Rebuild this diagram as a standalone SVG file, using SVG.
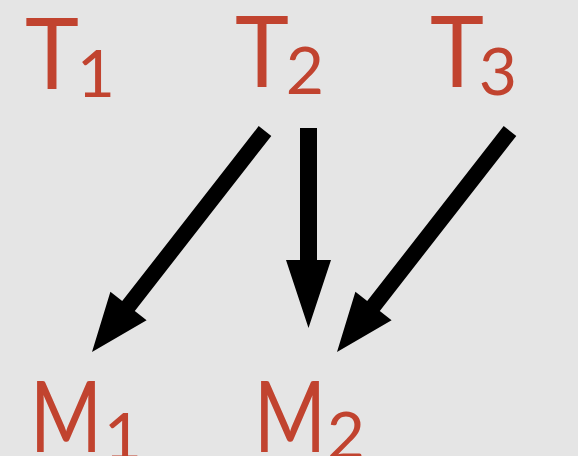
<svg xmlns="http://www.w3.org/2000/svg" width="578" height="456" viewBox="0 0 578 456">
<style>
.lbl{font-family:Lato,"Open Sans","Liberation Sans",sans-serif;fill:#c1432f;text-anchor:middle}
.big{font-size:98px}
.sub{font-size:66px}
.arr{fill:#000}
</style>
<rect width="578" height="456" fill="#e5e5e5"/>
<g id="T1"><text class="lbl big" x="52" y="89" textLength="54" lengthAdjust="spacingAndGlyphs">T</text><text class="lbl sub" x="96" y="97">1</text></g>
<g id="T2"><text class="lbl big" x="262" y="87" textLength="54" lengthAdjust="spacingAndGlyphs">T</text><text class="lbl sub" x="305" y="94">2</text></g>
<g id="T3"><text class="lbl big" x="457" y="87" textLength="54" lengthAdjust="spacingAndGlyphs">T</text><text class="lbl sub" x="498" y="95">3</text></g>
<g id="M1"><text class="lbl big" x="66" y="452" textLength="72" lengthAdjust="spacingAndGlyphs">M</text><text class="lbl sub" x="123" y="460">1</text></g>
<g id="M2"><text class="lbl big" x="290" y="452" textLength="72" lengthAdjust="spacingAndGlyphs">M</text><text class="lbl sub" x="346" y="459">2</text></g>
<g id="connectors">
<polygon class="arr" points="258.7,126.1 271.3,135.9 134.8,310.9 146.6,320.2 92,352 110.4,291.8 122.2,301.1"/>
<polygon class="arr" points="300,128 317,128 317,260 331,260 308.5,328 286,260 300,260"/>
<polygon class="arr" points="503.7,126.1 516.3,135.9 379.8,310.9 391.6,320.2 337,352 355.4,291.8 367.2,301.1"/>
</g>
</svg>
